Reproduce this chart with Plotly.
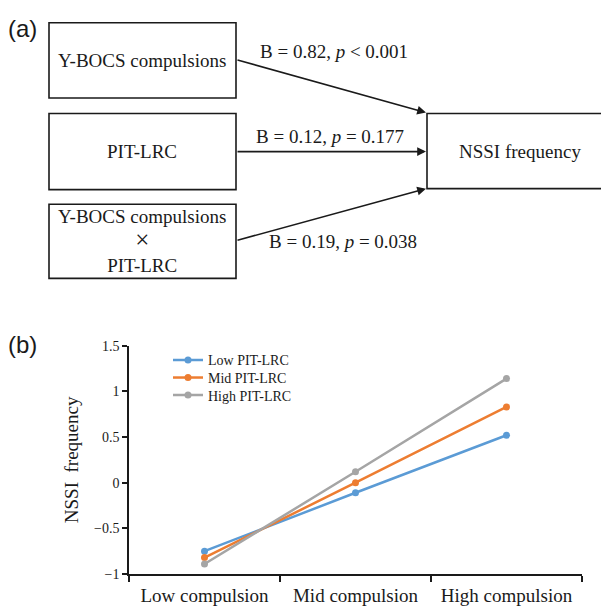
import plotly.graph_objects as go

W, H = 609, 615
OFF = 8  # default page body margin in the rendered HTML

# ---- data ----
categories = ["Low compulsion", "Mid compulsion", "High compulsion"]
series_names = ["Low PIT-LRC", "Mid PIT-LRC", "High PIT-LRC"]
low_pit = [-0.75, -0.11, 0.52]
mid_pit = [-0.82, 0.00, 0.83]
high_pit = [-0.89, 0.12, 1.14]
y_ticks = [-1, -0.5, 0, 0.5, 1, 1.5]
box_labels = ["Y-BOCS compulsions", "PIT-LRC",
              "Y-BOCS compulsions<br><span style='font-size:25px'>×</span><br>PIT-LRC",
              "NSSI frequency"]
path_labels = ["B = 0.82, <i>p</i> < 0.001", "B = 0.12, <i>p</i> = 0.177", "B = 0.19, <i>p</i> = 0.038"]

colors = ["#5B9BD5", "#ED7D31", "#A5A5A5"]
SERIF = "Liberation Serif"
SANS = "Liberation Sans"
INK = "#1a1a1a"


def px(x):
    return (x - OFF) / W


def py(y):
    return 1 - (y - OFF) / H


fig = go.Figure()
legend_ids = ["legend", "legend2", "legend3"]
for name, vals, c, lg in zip(series_names, [low_pit, mid_pit, high_pit], colors, legend_ids):
    fig.add_trace(go.Scatter(
        x=categories, y=vals, name=name, mode="lines+markers",
        line=dict(color=c, width=2.5),
        marker=dict(color=c, size=7, symbol="circle"),
        legend=lg,
    ))

shapes = []
annotations = []

# Boxes of panel (a)
boxes = [(49, 16, 236, 93), (49, 109, 236, 187), (49, 202, 236, 278), (427, 109, 606, 186)]
for (x0, y0, x1, y1) in boxes:
    shapes.append(dict(type="rect", xref="paper", yref="paper",
                       x0=px(x0), y0=py(y1), x1=px(x1), y1=py(y0),
                       line=dict(color=INK, width=1.6), fillcolor="rgba(0,0,0,0)"))

box_text_pos = [(142, 55), (142, 148), (142, 240), (520, 148)]
for t, (x, y) in zip(box_labels, box_text_pos):
    annotations.append(dict(text=t, x=px(x), y=py(y), xref="paper", yref="paper",
                            showarrow=False, xanchor="center", yanchor="middle",
                            font=dict(family=SERIF, size=19, color=INK)))

# Arrows (head, tail)
arrows = [((426, 108), (236, 55)), ((426, 148), (236, 148)), ((426, 186), (236, 238))]
for (hx, hy), (tx, ty) in arrows:
    annotations.append(dict(text="", x=px(hx), y=py(hy), xref="paper", yref="paper",
                            ax=tx - hx, ay=ty - hy, axref="pixel", ayref="pixel",
                            showarrow=True, arrowhead=2, arrowsize=1.1, arrowwidth=1.6,
                            arrowcolor=INK, standoff=0, startstandoff=0))

label_pos = [(334, 45), (330, 133), (343, 240)]
for t, (x, y) in zip(path_labels, label_pos):
    annotations.append(dict(text=t, x=px(x), y=py(y), xref="paper", yref="paper",
                            showarrow=False, xanchor="center", yanchor="middle",
                            font=dict(family=SERIF, size=19, color=INK)))

annotations.append(dict(text="(a)", x=px(6), y=py(22), xref="paper", yref="paper",
                        showarrow=False, xanchor="left", yanchor="middle",
                        font=dict(family=SANS, size=24, color=INK)))
annotations.append(dict(text="(b)", x=px(6), y=py(346), xref="paper", yref="paper",
                        showarrow=False, xanchor="left", yanchor="middle",
                        font=dict(family=SANS, size=24, color=INK)))

legend_rows = [362, 380, 398]
legend_cfg = {}
for lg, ry in zip(legend_ids, legend_rows):
    legend_cfg[lg] = dict(x=px(168), y=py(ry), xanchor="left", yanchor="middle",
                          font=dict(family=SERIF, size=14, color=INK),
                          bgcolor="rgba(0,0,0,0)", itemwidth=30)

fig.update_layout(
    width=W, height=H,
    margin=dict(l=0, r=0, t=0, b=0),
    paper_bgcolor="white", plot_bgcolor="white",
    shapes=shapes, annotations=annotations,
    showlegend=True,
    **legend_cfg,
    xaxis=dict(domain=[px(129), px(582)], range=[-0.5, 2.5], type="category",
               tickson="boundaries", ticks="outside", ticklen=6, tickwidth=1.5, tickcolor=INK,
               ticklabelstandoff=3,
               showline=True, linecolor=INK, linewidth=1.6, showgrid=False, zeroline=False,
               tickfont=dict(family=SERIF, size=19, color=INK), anchor="y"),
    yaxis=dict(domain=[py(581), py(347)], range=[-1, 1.5], tickvals=y_ticks,
               ticks="outside", ticklen=5, tickwidth=1.5, tickcolor=INK,
               showline=True, linecolor=INK, linewidth=1.6, showgrid=False, zeroline=False,
               tickfont=dict(family=SERIF, size=14, color=INK),
               title=dict(text="NSSI  frequency", font=dict(family=SERIF, size=19, color=INK),
                          standoff=10), anchor="x"),
)

fig.write_html("out.html")
